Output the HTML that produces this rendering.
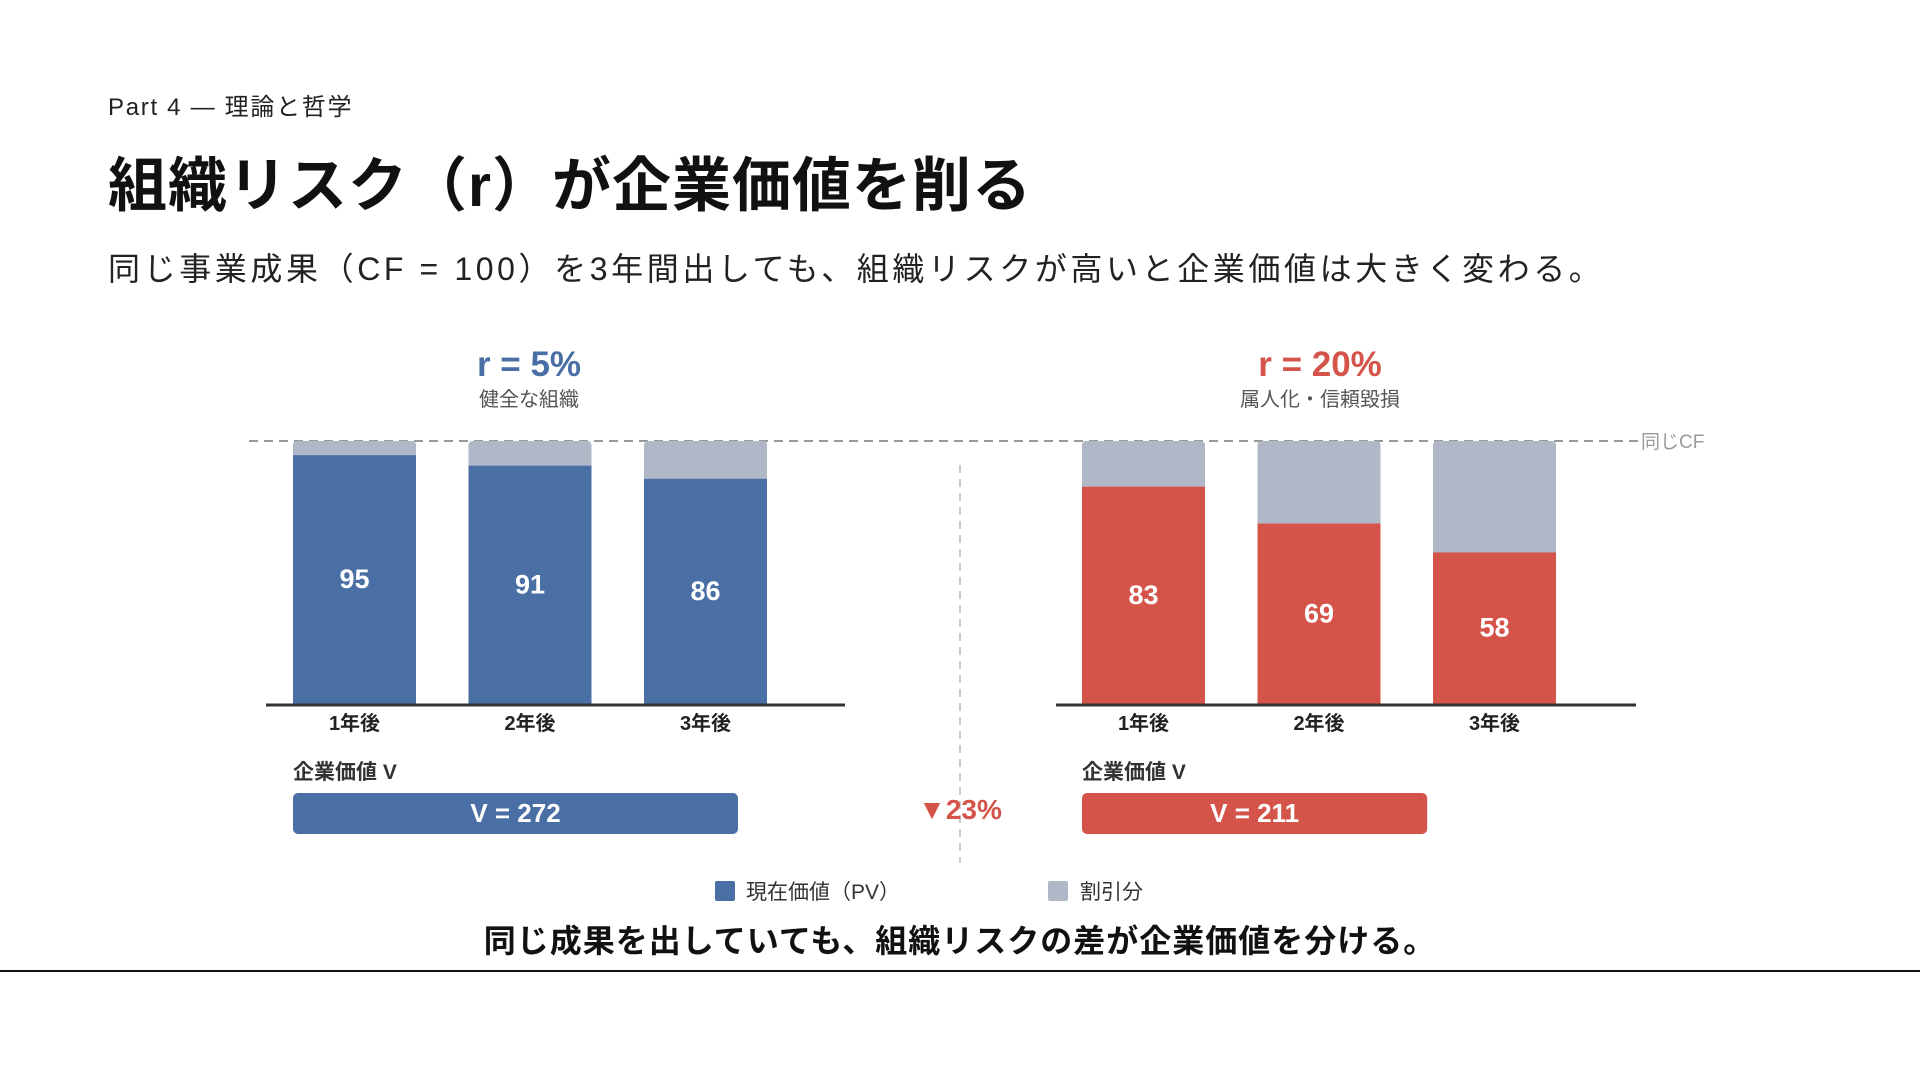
<!DOCTYPE html>
<html><head><meta charset="utf-8"><style>
body{margin:0;width:1920px;height:1080px;background:#fff;overflow:hidden;font-family:"Liberation Sans","Noto Sans CJK JP",sans-serif;}
.t{position:absolute;white-space:nowrap;}
</style></head><body>
<div class="t" style="left:108px;top:87px;font-size:24px;color:#222;letter-spacing:1.7px;">Part 4 — 理論と哲学</div>
<div class="t" style="left:108px;top:138px;font-size:59px;font-weight:bold;color:#111;letter-spacing:1px;">組織リスク（r）が企業価値を削る</div>
<div class="t" style="left:108px;top:244px;font-size:32px;color:#222;letter-spacing:3.6px;">同じ事業成果（CF = 100）を3年間出しても、組織リスクが高いと企業価値は大きく変わる。</div>
<svg id="chart" width="1920" height="1080" style="position:absolute;left:0;top:0;font-family:'Liberation Sans','Noto Sans CJK JP',sans-serif;"></svg>
<div class="t" style="left:0;width:1920px;text-align:center;top:916px;font-size:32px;font-weight:bold;color:#111;letter-spacing:1px;">同じ成果を出していても、組織リスクの差が企業価値を分ける。</div>
<div style="position:absolute;left:0;top:970px;width:1920px;height:2px;background:#111;"></div>
<script>
const categories=['1年後','2年後','3年後'];
const pvLow=[95,91,86];
const pvHigh=[83,69,58];
const cf=100;
const vLow=272, vHigh=211;
const diffLabel='▼23%';
const NS='http://www.w3.org/2000/svg';
const svg=document.getElementById('chart');
function mk(t,a,txt){const e=document.createElementNS(NS,t);for(const k in a)e.setAttribute(k,a[k]);if(txt!==undefined)e.textContent=txt;svg.appendChild(e);return e;}
const yTop=441,yBot=704;
function y(v){return yBot-(v/cf)*(yBot-yTop);}
const BLUE='#4a6fa5',RED='#d4544a',GRAY='#b0b8c8';
let e=mk('line',{x1:249,x2:1638,y1:y(cf),y2:y(cf),stroke:'#999','stroke-width':2,'stroke-dasharray':'9,6'});

e=mk('text',{x:1641,y:y(cf)+7,'font-size':19,fill:'#999'},'同じCF');

e=mk('line',{x1:960,x2:960,y1:465,y2:863,stroke:'#ccc','stroke-width':2,'stroke-dasharray':'8,6'});

function panel(vals,color,x0,axisX1,axisX2,cx,rLabel,sub,vVal,name){
  e=mk('text',{x:cx,y:376,'font-size':35,'font-weight':'bold',fill:color,'text-anchor':'middle'},rLabel);
  
  e=mk('text',{x:cx,y:406,'font-size':20,fill:'#555','text-anchor':'middle'},sub);
  
  vals.forEach((v,i)=>{
    const bx=x0+i*175.5,w=123;
    e=mk('rect',{x:bx,y:y(cf),width:w,height:y(v)-y(cf)+6,rx:4,fill:GRAY});
    
    e=mk('rect',{x:bx,y:y(v)+1,width:w,height:yBot-y(v)-1,fill:color});
    
    e=mk('text',{x:bx+w/2,y:(y(v)+yBot)/2+9,'font-size':27,'font-weight':'bold',fill:'#fff','text-anchor':'middle'},String(v));
    
    e=mk('text',{x:bx+w/2,y:730,'font-size':20,'font-weight':'bold',fill:'#222','text-anchor':'middle'},categories[i]);
    
  });
  e=mk('line',{x1:axisX1,x2:axisX2,y1:yBot+1,y2:yBot+1,stroke:'#333','stroke-width':3});
  
  e=mk('text',{x:x0,y:779,'font-size':21,'font-weight':'bold',fill:'#333'},'企業価値 V');
  
  const w=vVal/vLow*445;
  e=mk('rect',{x:x0,y:793,width:w,height:41,rx:5,fill:color});
  
  e=mk('text',{x:x0+w/2,y:822,'font-size':26,'font-weight':'bold',fill:'#fff','text-anchor':'middle'},'V = '+vVal);
  
}
panel(pvLow,BLUE,293,266,845,529,'r = 5%','健全な組織',vLow,'low-risk');
panel(pvHigh,RED,1082,1056,1636,1320,'r = 20%','属人化・信頼毀損',vHigh,'high-risk');
e=mk('text',{x:960,y:819,'font-size':28,'font-weight':'bold',fill:RED,'text-anchor':'middle'},diffLabel);

e=mk('rect',{x:715,y:881,width:20,height:20,rx:2,fill:BLUE});

e=mk('text',{x:746,y:899,'font-size':21,fill:'#333'},'現在価値（PV）');

e=mk('rect',{x:1048,y:881,width:20,height:20,rx:2,fill:GRAY});

e=mk('text',{x:1080,y:899,'font-size':21,fill:'#333'},'割引分');

</script>
</body></html>
